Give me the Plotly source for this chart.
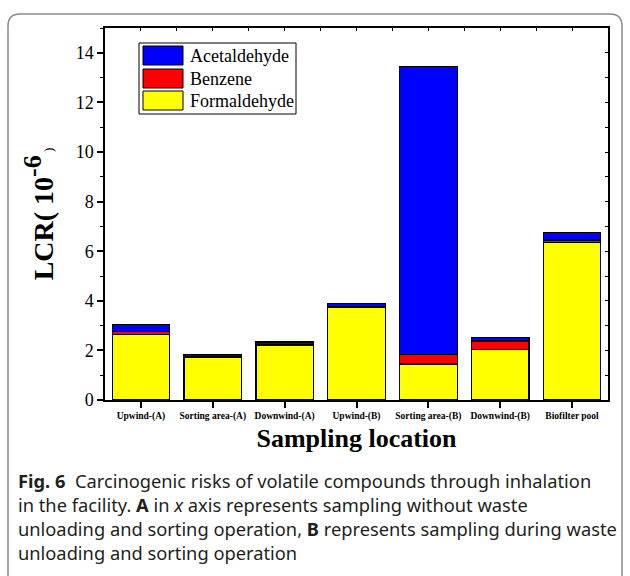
import plotly.graph_objects as go

categories = ["Upwind-(A)", "Sorting area-(A)", "Downwind-(A)", "Upwind-(B)",
              "Sorting area-(B)", "Downwind-(B)", "Biofilter pool"]
formaldehyde = [2.65, 1.72, 2.21, 3.74, 1.45, 2.05, 6.35]
benzene = [0.10, 0.02, 0.02, 0.02, 0.38, 0.33, 0.10]
acetaldehyde = [0.28, 0.11, 0.11, 0.13, 11.62, 0.13, 0.30]
series_names = ["Acetaldehyde", "Benzene", "Formaldehyde"]
series_colors = {"Acetaldehyde": "#0000FF", "Benzene": "#FF0000", "Formaldehyde": "#FFFF00"}
y_ticks = [0, 2, 4, 6, 8, 10, 12, 14]

W, H = 630, 576
L, R, T, B = 105, 608, 28, 400


def px2x(px):
    return (px - L) / (R - L)


def px2y(py):
    return (B - py) / (B - T)


SERIF = "Liberation Serif"
SANS = "Noto Sans"

fig = go.Figure()
for name, vals in [("Formaldehyde", formaldehyde), ("Benzene", benzene), ("Acetaldehyde", acetaldehyde)]:
    fig.add_trace(go.Bar(x=categories, y=vals, name=name,
                         marker=dict(color=series_colors[name], line=dict(color="black", width=1.2)),
                         showlegend=False))

# invisible trace for mirrored axes (top / right)
fig.add_trace(go.Scatter(x=[None], y=[None], xaxis="x2", yaxis="y2", showlegend=False, hoverinfo="skip"))

fig.update_layout(
    width=W, height=H,
    margin=dict(l=L, r=W - R, t=T, b=H - B),
    paper_bgcolor="white", plot_bgcolor="white",
    barmode="stack", bargap=0.2,
    xaxis=dict(type="category", showline=True, linecolor="black", linewidth=1.5,
               ticks="outside", ticklen=6, tickwidth=1.5, tickcolor="black",
               tickfont=dict(family=SERIF, size=9.5, color="black", weight="bold"),
               showgrid=False, zeroline=False,
               title=dict(text="<b>Sampling location</b>", font=dict(family=SERIF, size=26, color="black"),
                          standoff=8)),
    yaxis=dict(range=[0, 15], tickvals=y_ticks, showline=True, linecolor="black", linewidth=1.5,
               ticks="outside", ticklen=6, tickwidth=1.5, tickcolor="black",
               minor=dict(dtick=1, ticks="outside", ticklen=3, tickwidth=1.2, tickcolor="black"),
               tickfont=dict(family=SERIF, size=18, color="black"),
               showgrid=False, zeroline=False,
               title=dict(text="<b>LCR( 10<sup><span style='font-size:26px'>-6</span></sup></b>"
                               "<span style='font-size:13px'> )</span>",
                          font=dict(family=SERIF, size=28, color="black"), standoff=14)),
    xaxis2=dict(overlaying="x", side="top", anchor="y", range=[-0.5, 6.5], tick0=-0.5, dtick=0.5,
                showline=True, linecolor="black", linewidth=1.5, ticks="inside", ticklen=3,
                tickwidth=1.2, tickcolor="black", showticklabels=False, showgrid=False, zeroline=False),
    yaxis2=dict(overlaying="y", side="right", anchor="x", range=[0, 15], dtick=1,
                showline=True, linecolor="black", linewidth=1.5, ticks="inside", ticklen=3,
                tickwidth=1.2, tickcolor="black", showticklabels=False, showgrid=False, zeroline=False),
)

shapes = []
annotations = []

# legend box
shapes.append(dict(type="rect", xref="paper", yref="paper",
                   x0=px2x(139), x1=px2x(296), y0=px2y(43), y1=px2y(114),
                   line=dict(color="black", width=1), fillcolor="white"))
row_y = [(46, 65), (69, 88), (91, 110)]
for (y0, y1), name in zip(row_y, series_names):
    shapes.append(dict(type="rect", xref="paper", yref="paper",
                       x0=px2x(143), x1=px2x(183), y0=px2y(y0), y1=px2y(y1),
                       line=dict(color="black", width=1), fillcolor=series_colors[name]))
    annotations.append(dict(xref="paper", yref="paper", x=px2x(188), y=px2y((y0 + y1) / 2),
                            xanchor="left", yanchor="middle", showarrow=False, text=name,
                            font=dict(family=SERIF, size=18, color="black")))

# outer panel border (rounded)
r = 12
x0p, x1p, y0p, y1p = 8, 622, 14, 600
rx, ry = r / (R - L), r / (B - T)
X0, X1, Y0, Y1 = px2x(x0p), px2x(x1p), px2y(y0p), px2y(y1p)
path = (f"M {X0},{Y1} L {X0},{Y0 - ry} Q {X0},{Y0} {X0 + rx},{Y0} "
        f"L {X1 - rx},{Y0} Q {X1},{Y0} {X1},{Y0 - ry} L {X1},{Y1}")
shapes.append(dict(type="path", xref="paper", yref="paper", path=path,
                   line=dict(color="#8a8a8a", width=1.5)))

# caption
caption_lines = [
    "<b>Fig. 6</b>  Carcinogenic risks of volatile compounds through inhalation",
    "in the facility. <b>A</b> in <i>x</i> axis represents sampling without waste",
    "unloading and sorting operation, <b>B</b> represents sampling during waste",
    "unloading and sorting operation",
]
for i, line in enumerate(caption_lines):
    annotations.append(dict(xref="paper", yref="paper", x=px2x(16), y=px2y(480 + 24 * i),
                            xanchor="left", yanchor="middle", showarrow=False, text=line,
                            font=dict(family=SANS, size=18.3, color="#231f20")))

fig.update_layout(shapes=shapes, annotations=annotations)
fig.write_html("out.html")
